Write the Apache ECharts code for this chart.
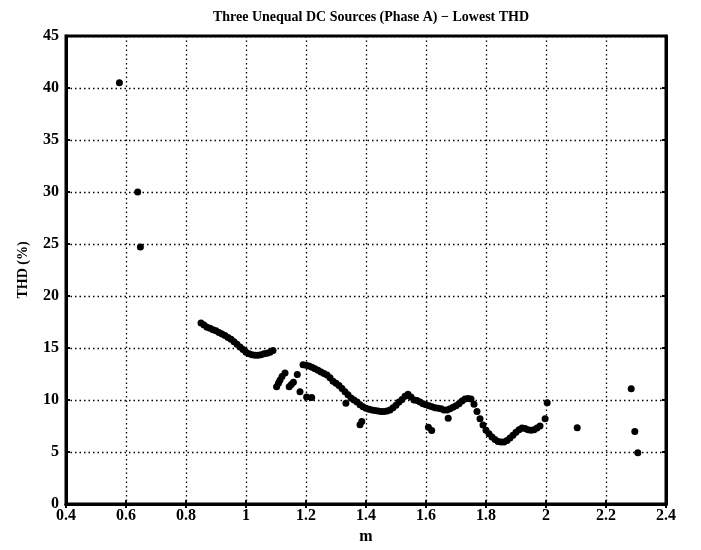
<!DOCTYPE html>
<html>
<head>
<meta charset="utf-8">
<script src="https://cdn.jsdelivr.net/npm/echarts@6/dist/echarts.min.js"></script>
<style>
  html, body { margin: 0; padding: 0; background: #fff; }
  #chart { width: 701px; height: 550px; }
</style>
</head>
<body>
<div id="chart"></div>
<script>
// Modulation index m and lowest THD (%) found for phase A
const mValues = [
  0.578, 0.639, 0.648,
  0.85, 0.86, 0.87, 0.88, 0.89, 0.90, 0.91, 0.92, 0.93, 0.94, 0.95, 0.96, 0.97, 0.98, 0.99,
  1.00, 1.01, 1.02, 1.03, 1.04, 1.05, 1.06, 1.07, 1.08, 1.09,
  1.102, 1.108, 1.113, 1.12, 1.13, 1.144, 1.151, 1.158, 1.171, 1.18, 1.202, 1.219,
  1.19, 1.20, 1.21, 1.22, 1.23, 1.24, 1.25, 1.26, 1.27, 1.28, 1.29, 1.30, 1.31, 1.32, 1.33,
  1.34, 1.35, 1.36, 1.37, 1.38, 1.39, 1.40, 1.41, 1.42, 1.43, 1.44, 1.45, 1.46, 1.47, 1.48,
  1.49, 1.50, 1.51, 1.52, 1.53, 1.54, 1.55, 1.56, 1.57, 1.58, 1.59, 1.60, 1.61, 1.62, 1.63,
  1.64, 1.65, 1.66, 1.67, 1.68, 1.69, 1.70, 1.71, 1.72, 1.73, 1.74, 1.75, 1.76, 1.77, 1.78,
  1.79, 1.80, 1.81, 1.82, 1.83, 1.84, 1.85, 1.86, 1.87, 1.88, 1.89, 1.90, 1.91, 1.92, 1.93,
  1.94, 1.95, 1.96, 1.97, 1.98,
  1.333, 1.38, 1.386, 1.608, 1.619, 1.674, 1.997, 2.004, 2.104, 2.284, 2.296, 2.306
];
const thdValues = [
  40.5, 30.0, 24.7,
  17.4, 17.2, 17.0, 16.9, 16.75, 16.65, 16.5, 16.35, 16.2, 16.0, 15.85, 15.6, 15.35, 15.1, 14.85,
  14.6, 14.45, 14.35, 14.3, 14.3, 14.35, 14.45, 14.5, 14.6, 14.75,
  11.27, 11.6, 11.9, 12.25, 12.6, 11.27, 11.5, 11.7, 12.44, 10.8, 10.3, 10.25,
  13.4, 13.35, 13.28, 13.15, 13.0, 12.85, 12.7, 12.55, 12.4, 12.15, 11.8, 11.6, 11.4, 11.1, 10.8,
  10.5, 10.2, 10.0, 9.8, 9.55, 9.35, 9.2, 9.1, 9.05, 9.0, 8.95, 8.9, 8.9, 8.95, 9.05,
  9.25, 9.5, 9.8, 10.05, 10.35, 10.55, 10.3, 10.0, 9.95, 9.8, 9.65, 9.55, 9.45, 9.35, 9.25,
  9.2, 9.15, 9.05, 9.05, 9.15, 9.3, 9.45, 9.65, 9.9, 10.1, 10.15, 10.1, 9.6, 8.9, 8.2,
  7.6, 7.1, 6.75, 6.45, 6.2, 6.0, 5.95, 5.95, 6.1, 6.35, 6.6, 6.9, 7.15, 7.3, 7.25,
  7.15, 7.1, 7.15, 7.3, 7.5,
  9.68, 7.62, 7.93, 7.39, 7.07, 8.25, 8.19, 9.74, 7.33, 11.08, 6.98, 4.92
];

const titleText = 'Three Unequal DC Sources (Phase A) \u2212 Lowest THD';
const xName = 'm';
const yName = 'THD (%)';

const points = mValues.map((m, i) => [m, thdValues[i]]);

const serif = '"Liberation Serif", "DejaVu Serif", serif';
const labelStyle = { color: '#000', fontFamily: serif, fontWeight: 'bold', fontSize: 16 };
const gridLine = { show: true, lineStyle: { color: '#000', width: 1.3, type: [1.5, 3] } };

const chart = echarts.init(document.getElementById('chart'), null, { renderer: 'canvas' });
chart.setOption({
  animation: false,
  backgroundColor: '#fff',
  title: {
    text: titleText,
    left: 366, top: 5, textAlign: 'center',
    textStyle: { color: '#000', fontFamily: serif, fontWeight: 'bold', fontSize: 14 }
  },
  grid: {
    left: 66, top: 36, right: 35, bottom: 42,
    show: true, borderColor: '#000', borderWidth: 3, backgroundColor: '#fff'
  },
  xAxis: [{
    type: 'value', min: 0.4, max: 2.4, interval: 0.2,
    name: xName, nameLocation: 'middle', nameGap: 25,
    nameTextStyle: { color: '#000', fontFamily: serif, fontWeight: 'bold', fontSize: 16 },
    axisLine: { show: true, lineStyle: { color: '#000', width: 3 } },
    axisTick: { show: true, inside: true, length: 4, lineStyle: { color: '#000', width: 2 } },
    axisLabel: { ...labelStyle, margin: 4, formatter: v => String(+v.toFixed(1)) },
    splitLine: gridLine
  }, {
    type: 'value', position: 'top', min: 0.4, max: 2.4, interval: 0.2,
    axisLine: { show: true, lineStyle: { color: '#000', width: 3 } },
    axisTick: { show: true, inside: true, length: 4, lineStyle: { color: '#000', width: 2 } },
    axisLabel: { show: false }, splitLine: { show: false }
  }],
  yAxis: [{
    type: 'value', min: 0, max: 45, interval: 5,
    name: yName, nameLocation: 'middle', nameGap: 36, nameRotate: 90,
    nameTextStyle: { color: '#000', fontFamily: serif, fontWeight: 'bold', fontSize: 14 },
    axisLine: { show: true, lineStyle: { color: '#000', width: 3 } },
    axisTick: { show: true, inside: true, length: 4, lineStyle: { color: '#000', width: 2 } },
    axisLabel: { ...labelStyle, margin: 7 },
    splitLine: gridLine
  }, {
    type: 'value', position: 'right', min: 0, max: 45, interval: 5,
    axisLine: { show: true, lineStyle: { color: '#000', width: 3 } },
    axisTick: { show: true, inside: true, length: 4, lineStyle: { color: '#000', width: 2 } },
    axisLabel: { show: false }, splitLine: { show: false }
  }],
  series: [{
    type: 'scatter',
    xAxisIndex: 0, yAxisIndex: 0,
    data: points,
    symbol: 'circle',
    symbolSize: 7,
    itemStyle: { color: '#000', opacity: 1 }
  }]
});
</script>
</body>
</html>
